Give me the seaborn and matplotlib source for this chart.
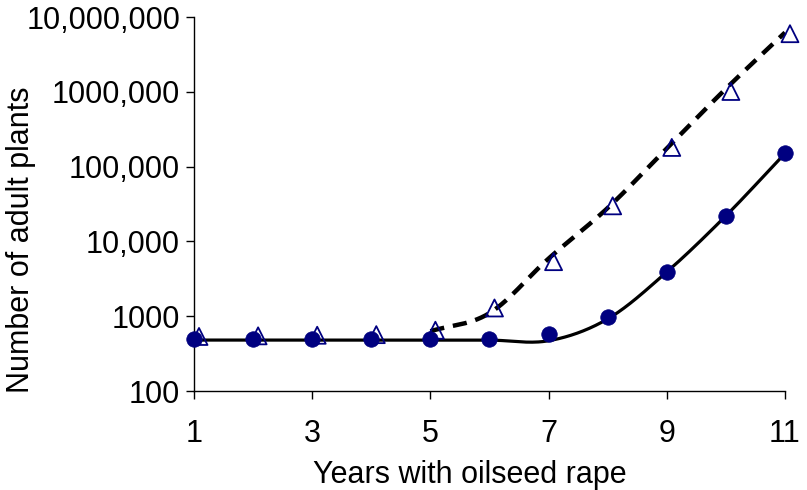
import numpy as np
import pandas as pd
import matplotlib
matplotlib.use("Agg")
import matplotlib.pyplot as plt
import matplotlib.transforms as mtransforms
from matplotlib.ticker import FixedLocator, FixedFormatter, NullLocator
import seaborn as sns

# ---- data ----
years = [1, 2, 3, 4, 5, 6, 7, 8, 9, 10, 11]
circles = [500, 500, 500, 500, 500, 500, 580, 980, 3900, 22000, 150000]
triangles = [520, 530, 540, 550, 630, 1250, 5200, 29000, 175000, 980000, 5800000]
fit_solid_years = [1, 2, 3, 4, 5, 6, 7, 8, 9, 10, 11]
fit_solid = [480, 480, 480, 480, 480, 480, 470, 920, 3900, 22000, 150000]
fit_dashed_years = [5, 6, 7, 8, 9, 10, 11]
fit_dashed = [630, 1100, 5900, 28000, 175000, 1100000, 6200000]
ytick_vals = [100, 1000, 10000, 100000, 1000000, 10000000]
ytick_labels = ["100", "1000", "10,000", "100,000", "1000,000", "10,000,000"]
xtick_vals = [1, 3, 5, 7, 9, 11]


def smooth(xs, ys, n=30):
    """Catmull-Rom smoothing (like a spreadsheet 'smoothed line') in log-y space."""
    x = np.asarray(xs, float)
    y = np.log10(np.asarray(ys, float))
    px = np.concatenate([[2 * x[0] - x[1]], x, [2 * x[-1] - x[-2]]])
    py = np.concatenate([[2 * y[0] - y[1]], y, [2 * y[-1] - y[-2]]])
    outx, outy = [], []
    t = np.linspace(0, 1, n)
    for i in range(1, len(px) - 2):
        for arr, out in ((px, outx), (py, outy)):
            p0, p1, p2, p3 = arr[i - 1], arr[i], arr[i + 1], arr[i + 2]
            v = 0.5 * ((2 * p1) + (-p0 + p2) * t + (2 * p0 - 5 * p1 + 4 * p2 - p3) * t ** 2
                       + (-p0 + 3 * p1 - 3 * p2 + p3) * t ** 3)
            out.extend(v)
    return np.array(outx), 10 ** np.array(outy)


sns.set_style("ticks")
plt.rcParams["font.family"] = ["Liberation Sans", "DejaVu Sans"]

fig = plt.figure(figsize=(8.07, 4.90), dpi=100)
ax = fig.add_axes([0.2404, 0.2020, 0.7323, 0.7633])

sx, sy = smooth(fit_solid_years, fit_solid)
dx, dy = smooth(fit_dashed_years, fit_dashed)
sns.lineplot(x=sx, y=sy, ax=ax, color="black", linewidth=2.3, sort=False, clip_on=False)
sns.lineplot(x=dx, y=dy, ax=ax, color="black", linewidth=3.2, sort=False, clip_on=False)
ax.lines[-1].set_dashes([3.2, 2.0])

df_c = pd.DataFrame({"year": years, "n": circles})
df_t = pd.DataFrame({"year": years, "n": triangles})
sns.scatterplot(data=df_c, x="year", y="n", ax=ax, marker="o", s=125,
                color="#000080", edgecolor="#000080", linewidth=0.5, zorder=3, clip_on=False)
sns.scatterplot(data=df_t, x="year", y="n", ax=ax, marker="^", s=150,
                facecolor="none", edgecolor="#000080", linewidth=1.3, zorder=4, clip_on=False)
offset = mtransforms.ScaledTranslation(5 / 100, 1 / 100, fig.dpi_scale_trans)
tri = ax.collections[-1]
tri.set_offset_transform(ax.transData + offset)

ax.set_yscale("log")
ax.set_ylim(100, 10000000)
ax.set_xlim(1, 11)
ax.yaxis.set_major_locator(FixedLocator(ytick_vals))
ax.yaxis.set_major_formatter(FixedFormatter(ytick_labels))
ax.yaxis.set_minor_locator(NullLocator())
ax.set_xticks(xtick_vals)
ax.set_xticklabels([str(v) for v in xtick_vals])

for s in ("top", "right"):
    ax.spines[s].set_visible(False)
for s in ("left", "bottom"):
    ax.spines[s].set_linewidth(1.0)
    ax.spines[s].set_color("black")
ax.tick_params(axis="both", direction="out", length=6, width=1.0, labelsize=22, colors="black")
ax.tick_params(axis="x", pad=14)
ax.tick_params(axis="y", pad=4)

ax.set_xlabel("Years with oilseed rape", fontsize=22, color="black")
ax.xaxis.set_label_coords(0.467, -0.185)
ax.set_ylabel("Number of adult plants", fontsize=22, color="black")
ax.yaxis.set_label_coords(-0.268, 0.405)

fig.savefig("out.png", dpi=100)
